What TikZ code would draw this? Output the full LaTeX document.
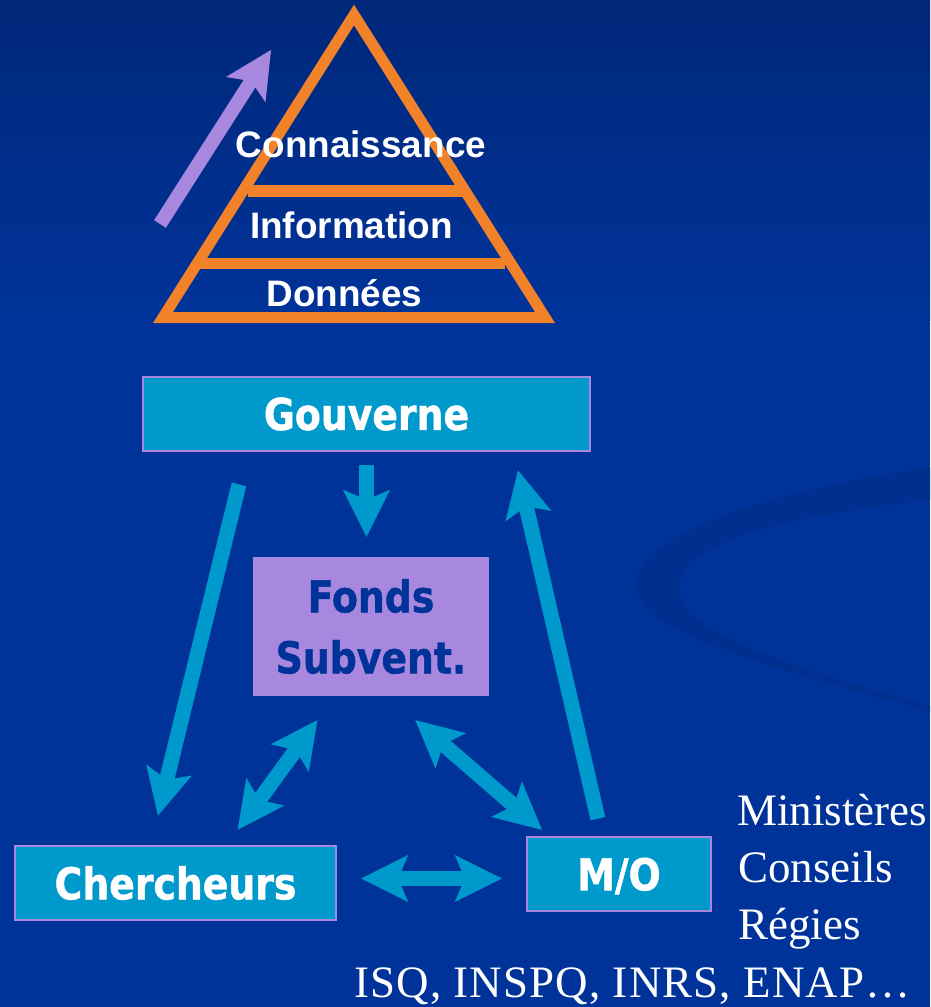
\documentclass[tikz,border=0pt]{standalone}
\usepackage{fontspec}
\setmainfont{Liberation Serif}
\newfontfamily\pyrfont{Liberation Sans}
\newfontfamily\boxfont{DejaVu Sans}[FakeStretch=0.86, FakeBold=1]
\usetikzlibrary{arrows.meta,calc}
\definecolor{bgblue}{HTML}{003399}
\definecolor{bgtop}{HTML}{00287A}
\definecolor{swoosh}{HTML}{00308F}
\definecolor{boxcyan}{HTML}{0099CC}
\definecolor{lavender}{HTML}{A788DE}
\definecolor{pyrorange}{HTML}{F2822A}

\begin{document}
\begin{tikzpicture}[x=0.02cm, y=-0.02cm,
  Fat/.tip={Stealth[length=0.94cm, width=0.94cm, inset=0.2cm, line width=0pt]},
  cbox/.style={draw=lavender, line width=0.05cm, fill=boxcyan, text=white, font=\boxfont\bfseries\fontsize{25}{34.7}\selectfont, minimum height=1.48cm, inner sep=0pt},
  flow/.style={draw=boxcyan, line width=0.3cm, -Fat},
  dflow/.style={flow, Fat-Fat},
  tier/.style={text=white, font=\pyrfont\bfseries\fontsize{21}{25}\selectfont, anchor=base},
  side/.style={text=white, font=\fontsize{25.6}{30}\selectfont, anchor=base west, inner sep=0pt}]
\fill[bgblue] (0,0) rectangle (930,1007);
\shade[top color=bgtop, bottom color=bgblue] (0,0) rectangle (930,320);
\fill[swoosh] (930,467) .. controls (780,490) and (640,530) .. (636,585) .. controls (635,630) and (760,665) .. (930,712) -- (930,706) .. controls (770,660) and (675,630) .. (680,585) .. controls (685,540) and (790,515) .. (930,500) -- cycle;
\useasboundingbox (0,0) rectangle (930,1007);

% pyramide
\draw[pyrorange, line width=0.22cm, line join=miter] (354,15) -- (545,317.5) -- (163,317.5) -- cycle;
\draw[pyrorange, line width=0.24cm] (248,191) -- (463,191);
\draw[pyrorange, line width=0.22cm] (200,263.5) -- (505,263.5);
\draw[lavender, line width=0.28cm, -Fat] (160,224) -- (271,50);
\node[tier] (conn) at (361,157) {Connaissance};
\node[tier] (info) at (351.5,238) {Information};
\node[tier] (donn) at (344.5,306) {Données};

% acteurs
\node[cbox, minimum width=8.94cm] (gouv) at (366.5,414) {Gouverne};
\node[cbox, fill=lavender, text=bgblue, align=center, minimum width=4.68cm, minimum height=2.74cm] (fonds) at (371,626.5) {Fonds\\Subvent.};
\node[cbox, minimum width=6.42cm] (cherch) at (175.5,883) {Chercheurs};
\node[cbox, minimum width=3.68cm, text depth=0pt] (mo) at (619,874) {M/O};

\draw[flow, shorten <=0.26cm, shorten >=0.4cm] (gouv.south) -- (gouv.south |- fonds.north);
\draw[flow, shorten <=0.66cm, shorten >=0.6cm] ($(gouv.south west)+(105,0)$) -- ($(cherch.north west)+(137,0)$);
\draw[flow, shorten <=0.35cm, shorten >=0.37cm] ($(mo.north west)+(76,0)$) -- ($(gouv.south west)+(372,0)$);
\draw[dflow, shorten <=0.37cm, shorten >=0.59cm] ($(cherch.north west)+(213,0)$) -- ($(fonds.south west)+(82,0)$);
\draw[dflow, shorten <=0.73cm, shorten >=0.18cm] ($(fonds.south west)+(135,0)$) -- ($(mo.north west)+(23,0)$);
\draw[dflow, shorten <=0.48cm, shorten >=0.48cm] ($(cherch.east)!.5!(cherch.east |- mo.west)$) -- ($(mo.west)!.5!(mo.west |- cherch.east)$);

\node[side] (mins) at (737,825) {Ministères};
\node[side] (cons) at (738,882) {Conseils};
\node[side] (regi) at (738,939) {Régies};
\node[side, font=\addfontfeature{LetterSpace=2.5}\fontsize{25.6}{30}\selectfont] (inst) at (354,997) {ISQ, INSPQ, INRS, ENAP…};
\end{tikzpicture}
\end{document}
